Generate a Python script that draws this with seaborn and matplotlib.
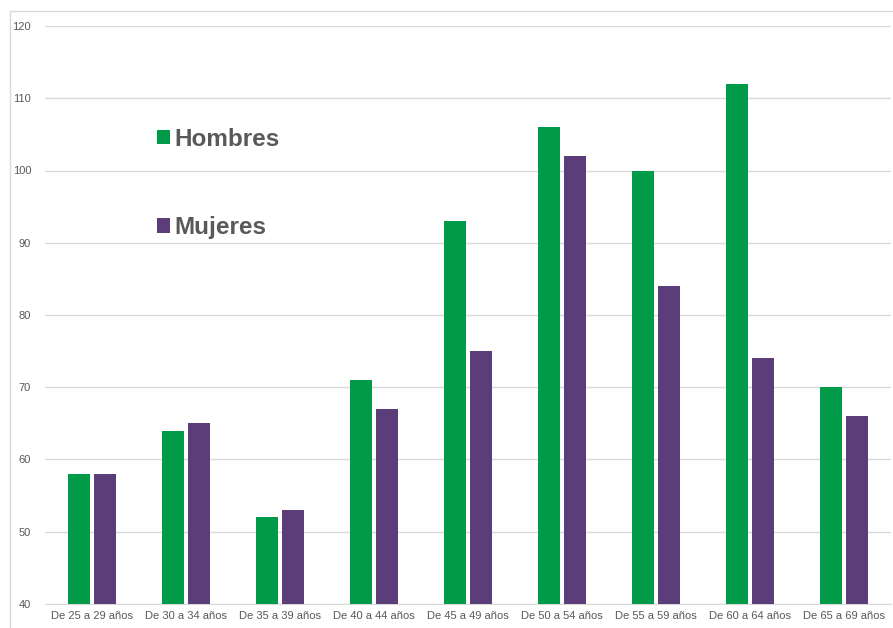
import pandas as pd
import matplotlib.pyplot as plt
import seaborn as sns
from matplotlib.lines import Line2D

grupos = ["De 25 a 29 años", "De 30 a 34 años", "De 35 a 39 años",
          "De 40 a 44 años", "De 45 a 49 años", "De 50 a 54 años",
          "De 55 a 59 años", "De 60 a 64 años", "De 65 a 69 años"]
hombres = [58, 64, 52, 71, 93, 106, 100, 112, 70]
mujeres = [58, 65, 53, 67, 75, 102, 84, 74, 66]

df = pd.DataFrame({
    "grupo": grupos * 2,
    "valor": hombres + mujeres,
    "sexo": ["Hombres"] * len(grupos) + ["Mujeres"] * len(grupos),
})

sns.set_style("white")
plt.rcParams['font.family'] = ['Liberation Sans', 'DejaVu Sans']

fig = plt.figure(figsize=(8.93, 6.28), dpi=100)
ax = fig.add_axes([45 / 893, 24 / 628, 846 / 893, 578 / 628])

sns.barplot(data=df, x="grupo", y="valor", hue="sexo",
            palette={"Hombres": "#009A49", "Mujeres": "#5B3D7A"},
            saturation=1, width=0.574, gap=0.185, linewidth=0,
            ax=ax, zorder=3)

ax.set_ylim(40, 120)
ax.set_yticks(range(40, 121, 10))
ax.yaxis.grid(True, color="#D9D9D9", linewidth=1, zorder=0)
ax.set_axisbelow(True)
ax.set_xlabel("")
ax.set_ylabel("")
for s in ["top", "right", "left"]:
    ax.spines[s].set_visible(False)
ax.spines["bottom"].set_color("#D9D9D9")
ax.tick_params(axis="both", length=0, labelsize=8, colors="#595959")
ax.tick_params(axis="x", pad=5)
ax.tick_params(axis="y", pad=10)

leg = ax.legend(loc="upper left", bbox_to_anchor=(0.106, 0.862),
                frameon=False, prop={"size": 17.5, "weight": "bold"},
                handlelength=0.55, handleheight=0.55, handletextpad=0.2,
                labelspacing=2.7)
for t in leg.get_texts():
    t.set_color("#595959")

# outer chart frame
fig.add_artist(Line2D([10 / 893, 10 / 893], [0, 1 - 11 / 628], color="#D9D9D9", lw=1))
fig.add_artist(Line2D([10 / 893, 1], [1 - 11 / 628, 1 - 11 / 628], color="#D9D9D9", lw=1))

fig.savefig("out.png", dpi=100)
